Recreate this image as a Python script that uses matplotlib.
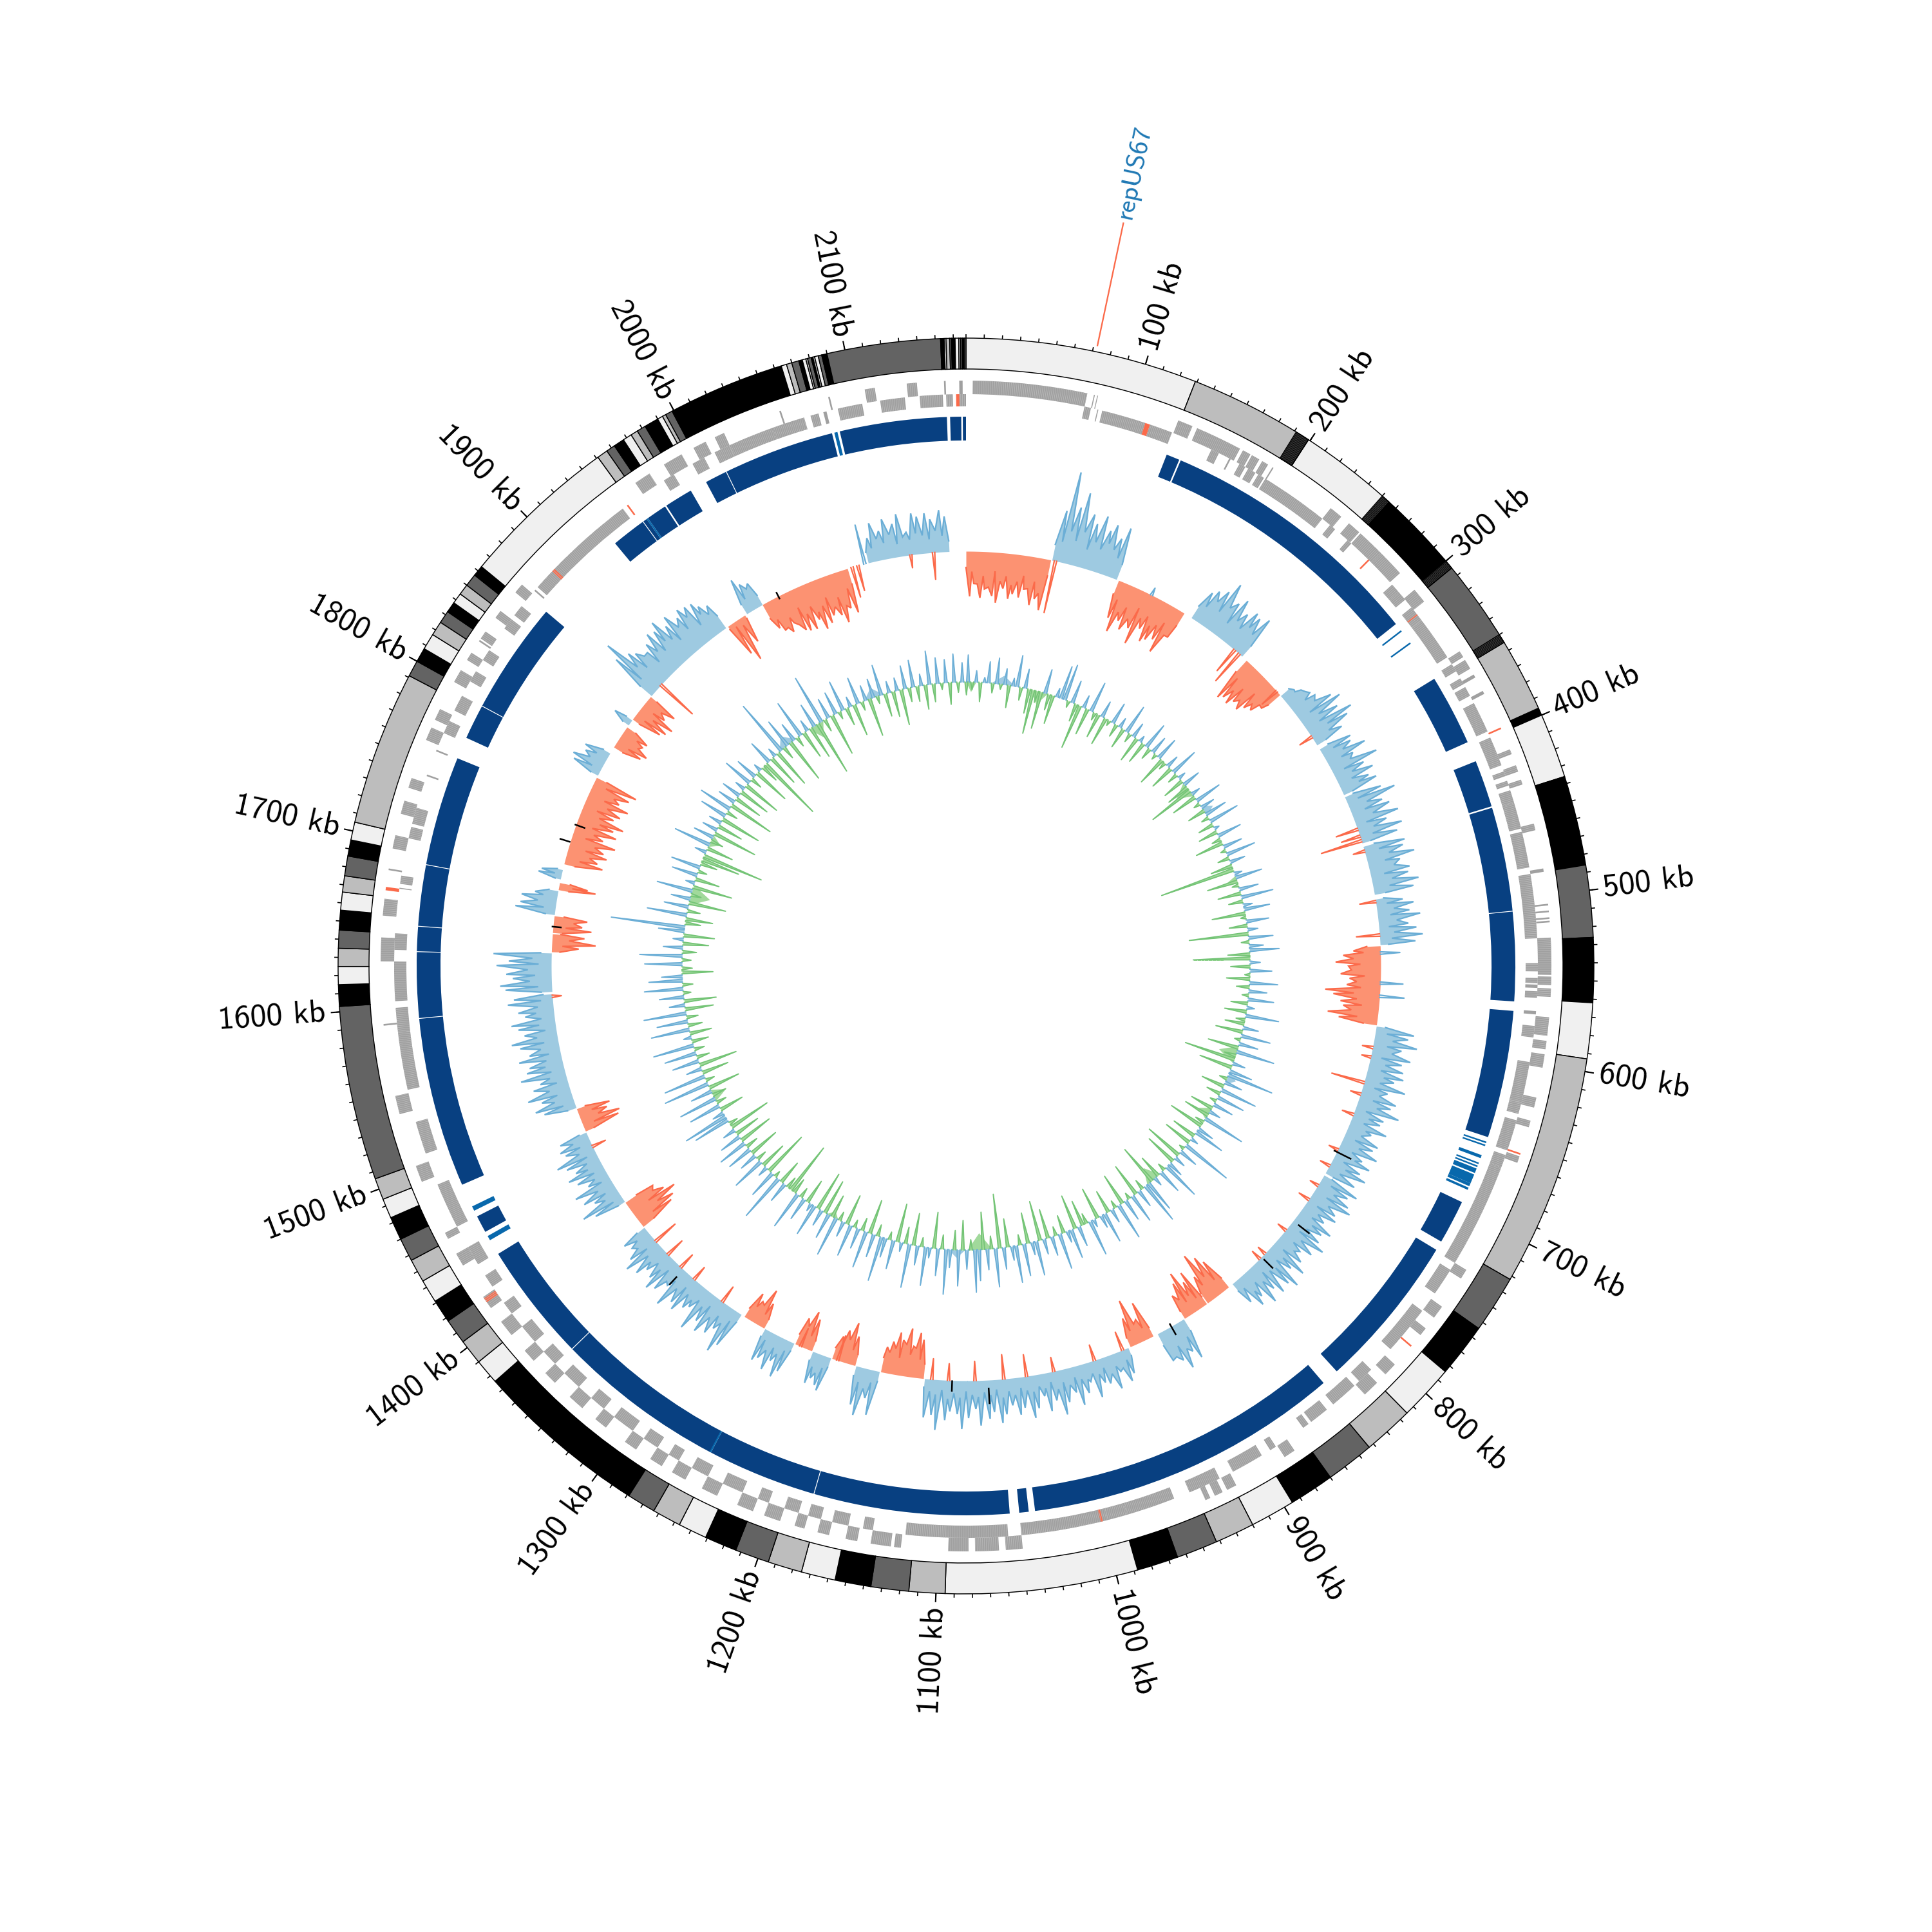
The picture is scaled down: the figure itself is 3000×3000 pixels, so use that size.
import matplotlib
matplotlib.use('Agg')
import numpy as np
import matplotlib.pyplot as plt

total_kb = 2167

# contig bands of the outer ring: start kb and shade index (0 light .. 3 black)
band_start = [0, 129, 199, 255, 305, 355, 396, 400, 436, 486, 526, 562, 593, 722, 754, 784, 815, 843, 870, 895, 920, 942, 965, 988,
              1095, 1115, 1136, 1156, 1175, 1194, 1213, 1231, 1247, 1263, 1279,
              1376, 1390, 1404, 1418, 1431, 1444, 1457, 1470, 1483, 1494, 1506, 1603, 1615, 1625, 1635,
              1645, 1656, 1666, 1675, 1686, 1695, 1705, 1791, 1800, 1808, 1817, 1825, 1832, 1838, 1844,
              1850, 1857, 1863, 1951, 1957, 1962, 1968, 1973, 1977, 1982, 1990, 1993, 1995, 1999, 2064,
              2067, 2070, 2074, 2076, 2078, 2079, 2081, 2082, 2083, 2085, 2087, 2090, 2153,
              2155, 2156, 2158, 2159, 2161, 2163, 2164, 2165, 2166]
band_shade = [0, 1, 0, 3, 2, 1, 3, 0, 3, 2, 3, 0, 1, 2, 3, 0, 1, 2, 3, 0, 1, 2, 3, 0,
              1, 2, 3, 0, 1, 2, 3, 0, 1, 2, 3,
              0, 1, 2, 3, 0, 1, 2, 3, 0, 1, 2, 3, 0, 1, 2,
              3, 0, 1, 2, 3, 0, 1, 2, 3, 0, 1, 2, 3, 0, 1,
              2, 3, 0, 1, 2, 3, 0, 1, 2, 3, 0, 1, 2, 3, 0,
              1, 2, 3, 0, 1, 2, 3, 1, 0, 2, 3, 2, 3,
              0, 1, 2, 3, 0, 1, 2, 3, 2]
band_colors = ['#f0f0f0', '#bdbdbd', '#636363', '#000000']

# small contigs packed together, drawn as black stripes
dense_stripes = [191.5, 192.2, 192.9, 193.6, 194.3, 195.0, 195.7, 196.4, 197.1, 197.8, 198.5,
                 250.5, 251.2, 251.9, 252.6, 253.3, 254.0, 254.7,
                 300.4, 301.1, 301.8, 302.5, 303.2, 303.9, 304.6,
                 350.6, 351.3, 352.0, 352.7, 353.4, 354.1, 354.8,
                 395.5, 396.2, 396.9, 397.6, 398.3]
dense_start = [191, 250, 300, 350]
dense_end = [199, 255, 305, 355]

# essential / conserved track
core_start = [129, 138.5, 352, 410, 441, 507.5, 570, 695, 729, 839, 1044, 1056, 1180.5, 1250.5, 1359.5, 1451, 1484, 1592.5,
              1634.5, 1650.5, 1689.5, 1773, 1795.5, 1928, 1950.5, 1954, 1968, 1997, 2011.5, 2087, 2157, 2165]
core_end = [137.5, 310, 397, 440, 507, 564, 651, 723, 828, 1040, 1050, 1180, 1250, 1359, 1435, 1462, 1592, 1634,
            1650, 1689, 1759, 1795, 1867, 1950, 1953, 1967, 1986, 2011, 2082, 2155, 2164, 2167]
thin_start = [315, 324.5, 654, 656, 663, 668, 670, 672, 676, 682, 685, 1445, 1466, 2083.5, 1250, 1953]
thin_end = [316, 325.5, 655, 657, 665, 669, 671, 675, 682, 684, 686.5, 1448, 1469, 2085.5, 1251, 1954]

# genes on the two strands
genes_outer = [(4, 72), (76, 76.6), (78, 78.5), (128, 137), (140, 168), (170, 175), (176, 181), (183, 187), (190, 190.8),
               (232, 240), (246, 254), (255, 272), (272, 288), (301, 310), (346, 350), (352, 358), (362, 364),
               (373, 375), (411, 414), (421, 425), (430, 433), (457, 461), (484, 486), (505, 506), (509, 510),
               (513, 514), (515, 516), (525, 547), (548, 553), (555, 560), (572, 583), (586, 591), (594, 602),
               (620, 626), (634, 638), (656, 660), (730, 736), (756, 764), (772, 777), (800, 808), (815, 825),
               (878, 885), (918, 924), (927, 932), (935, 938), (1050, 1060), (1064, 1078), (1082, 1094),
               (1122, 1126), (1128, 1140), (1148, 1155), (1165, 1172), (1180, 1186), (1195, 1205), (1212, 1222),
               (1235, 1245), (1256, 1265), (1272, 1280), (1290, 1298), (1312, 1320), (1330, 1340), (1352, 1360),
               (1370, 1378), (1390, 1400), (1410, 1418), (1440, 1448), (1458, 1462), (1495, 1505), (1537, 1548),
               (1590, 1591), (1628, 1642), (1655, 1665), (1682, 1683), (1695, 1703), (1716, 1724), (1732, 1738),
               (1762, 1770), (1775, 1782), (1800, 1808), (1815, 1820), (1828, 1829), (1830, 1835), (1845, 1850),
               (1864, 1870), (1960, 1970), (1980, 1992), (2000, 2008), (2014, 2020), (2055, 2056), (2085, 2086),
               (2107, 2113), (2132, 2138), (2154, 2155), (2163, 2165)]
genes_inner = [(72, 76), (80, 80.6), (83, 110), (113, 127), (153, 158), (165, 166), (172, 176), (178, 183), (185, 189),
               (190, 232), (238, 242), (252, 255), (290, 296), (296, 302), (308, 318), (318, 345), (350, 355),
               (360, 364), (366, 372), (377, 396), (400, 418), (422, 425), (428, 431), (434, 442), (442, 458),
               (460, 482), (486, 525), (540, 545), (549, 552), (553, 555), (557, 561), (569, 571), (578, 585),
               (600, 625), (624, 632), (636, 655), (658, 666), (666, 730), (735, 752), (765, 780), (780, 795),
               (812, 822), (826, 843), (848, 860), (862, 866), (886, 890), (896, 916), (925, 945), (955, 985),
               (985, 997), (997, 1050), (1058, 1095), (1095, 1120), (1140, 1146), (1155, 1165), (1172, 1180),
               (1186, 1195), (1205, 1212), (1222, 1235), (1245, 1256), (1265, 1272), (1280, 1290), (1298, 1312),
               (1320, 1330), (1340, 1352), (1360, 1370), (1378, 1390), (1400, 1408), (1420, 1428), (1436, 1448),
               (1462, 1490), (1510, 1530), (1550, 1585), (1585, 1600), (1604, 1628), (1635, 1645), (1672, 1672.6),
               (1675, 1680), (1703, 1710), (1712, 1722), (1742, 1743), (1758, 1759), (1770, 1778), (1785, 1795),
               (1805, 1812), (1820, 1827), (1843, 1850), (1853, 1860), (1872, 1873), (1875, 1890), (1890, 1945),
               (1975, 1982), (1995, 2003), (2010, 2020), (2020, 2048), (2048, 2068), (2072, 2077), (2080, 2082),
               (2089, 2104), (2115, 2130), (2139, 2153), (2155, 2159), (2163, 2167)]
genes_red_outer = [(397, 398), (654, 655), (785, 786), (1414, 1417), (1670, 1672)]
genes_red_inner = [(110, 113), (269, 270), (313, 314), (1888, 1890), (1948, 1949), (2161, 2163), (1000, 1001.5)]

# GC content track: segments, sign, floor and peak heights
gc_start = [0, 72, 130, 198, 256, 297, 352, 397, 441, 486, 525, 592, 724, 847, 870, 893, 922, 945, 1119, 1156, 1177,
            1198, 1215, 1231, 1259, 1281, 1391, 1417, 1484, 1505, 1604, 1637, 1653, 1668, 1689, 1698, 1711, 1790,
            1817, 1839, 1845, 1870, 1956, 1975, 1990, 2085]
gc_end = [71, 128, 191, 251, 296, 348, 395, 438, 482, 524, 591, 722, 843, 869, 892, 918, 943, 1118, 1155, 1176, 1197,
          1214, 1230, 1258, 1278, 1390, 1416, 1483, 1504, 1602, 1636, 1652, 1667, 1688, 1695, 1706, 1788, 1811,
          1837, 1844, 1869, 1954, 1973, 1990, 2067, 2153]
gc_sign = [-1, 1, -1, 1, -1, 1, 1, 1, 1, 1, -1, 1, 1, -1, -1, 1, -1, 1, -1, 1, -1,
           1, -1, 1, -1, 1, -1, 1, -1, 1, 1, -1, -1, 1, -1, 1, -1, 1,
           -1, 1, -1, 1, -1, 1, -1, 1]
gc_floor = [42, 42, 38, 36, 40, 28, 26, 24, 30, 22, 35, 24, 24, 30, 22, 35, 25, 22, 38, 26, 30,
            25, 28, 22, 26, 24, 35, 20, 24, 24, 28, 22, 26, 24, 28, 14, 30, 20,
            28, 18, 22, 38, 10, 28, 42, 28]
gc_peaks = [
    [70, 50, 72, 58, 68, 78, 55, 70, 62, 66, 52, 75, 64, 80],
    [80, 143, 90, 115, 85, 72, 88, 68, 80, 62, 82],
    [60, 80, 58, 70, 62, 85, 55, 72, 66, 60, 78, 45],
    [50, 58, 66, 85, 60, 72, 55, 66, 62, 70],
    [72, 66, 70, 60, 65, 55, 50, 35],
    [22, 30, 38, 42, 62, 73, 60, 78, 66, 48],
    [52, 48, 67, 42, 76, 50, 60, 48, 58],
    [58, 78, 52, 61, 70, 48, 69, 58],
    [65, 60, 75, 50, 62, 58, 72, 62],
    [42, 58, 50, 66, 46, 58, 67, 55],
    [42, 58, 70, 50, 62, 48, 52, 85, 72, 60, 55, 78, 60],
    [60, 52, 68, 45, 62, 50, 55, 58, 45, 66, 40, 58, 52, 69, 48, 45, 60, 38, 55, 50, 62, 42, 58, 48, 61, 50],
    [62, 50, 58, 66, 48, 54, 40, 60, 48, 52, 66, 55, 38, 50, 64, 45, 70, 58, 62, 48, 64, 44, 55, 40],
    [55, 68, 80, 45],
    [62, 48, 70, 55, 40],
    [65, 50, 72, 55, 48],
    [60, 35, 72, 45],
    [40, 50, 30, 55, 42, 38, 58, 30, 46, 62, 40, 52, 70, 45, 60, 35, 52, 66, 48, 58, 42, 55, 68, 50, 60, 70, 44, 58,
     75, 52, 48, 62, 78, 55, 60],
    [60, 70, 48, 75, 55, 66, 50, 40],
    [70, 45, 75, 60],
    [45, 65, 50, 38],
    [55, 48, 40, 50],
    [50, 60, 45],
    [50, 62, 40, 58, 45, 52],
    [40, 60, 35, 45],
    [60, 75, 42, 55, 62, 48, 70, 38, 45, 58, 50, 66, 35, 52, 60, 45, 40, 55, 62, 48, 35, 42],
    [60, 68, 78, 62, 50],
    [50, 68, 40, 55, 62, 35, 48, 58, 42, 52, 65, 44, 50, 45],
    [58, 62, 45, 52],
    [50, 62, 48, 68, 55, 42, 70, 58, 52, 66, 48, 60, 72, 50, 58, 68, 45, 55, 70, 60],
    [72, 80, 60, 70, 85, 66, 90],
    [42, 68, 50],
    [60, 45, 52],
    [62, 55, 55, 35],
    [58, 45],
    [36, 32],
    [60, 50, 62, 55, 70, 48, 66, 58, 72, 52, 60, 68, 50, 62, 70],
    [45, 50, 35, 40],
    [45, 52, 38, 42],
    [30],
    [48, 55, 60, 40, 50],
    [78, 102, 70, 62, 50, 60, 70, 66, 78, 60, 72, 58, 68, 64, 62, 52, 45],
    [55, 70, 45],
    [57, 45, 40],
    [45, 52, 60, 48, 66, 70, 72, 60, 78, 72, 62, 66, 80, 60, 70],
    [38, 60, 45, 62, 52, 66, 36, 64, 58, 62, 52, 65, 55],
]
# troughs and peak positions are not even in the picture
gc_floor_wobble = [1.0, 0.75, 1.2, 0.9, 1.3, 0.7, 1.05, 0.85, 1.15]
gc_peak_shift = [0.8, -0.6, 0.3, -1.0, 1.1, -0.2, 0.6]
# single spikes of the other sign inside a segment
gc_spike_kb = [75, 160, 243, 248, 292, 340, 426, 432, 436, 445, 488, 516, 531, 556, 567, 610, 618, 640, 650, 668,
               700, 715, 734, 748, 780, 806, 812, 950, 975, 1010, 1033, 1052, 1076, 1098, 1112, 1192, 1225, 1300,
               1330, 1345, 1360, 1375, 1470, 1600, 1882, 2071, 2076, 2082, 2121, 2140]
gc_spike_val = [-82, 12, -42, -55, -30, -22, -35, -30, -65, -18, -25, -36, 30, 35, 38, -16, -14, -52, -16, -18,
                -15, -16, -14, -18, -15, -14, -16, -30, -25, -22, -34, -38, -30, -26, -32, -40, -30, -28,
                -24, -26, -30, -40, -22, -14, -66, -48, -40, 62, -20, -42]
gc_black_kb = [702, 770, 810, 905, 1065, 1095, 1342, 1658, 1730, 1745, 2005]
gc_black_r0 = [640, 655, 650, 640, 657, 645, 660, 632, 645, 630, 640]
gc_black_r1 = [668, 675, 668, 658, 680, 660, 675, 645, 660, 645, 650]

# GC skew track, one signed value every 5 kb
skew_vals = [
    42, -12, 18, -30, 8, 33, -15, 40, -8, 25, -35, 12, 49, -20, 30, -38, -69, -18, -58, 38,
    -25, -45, 14, 52, 57, -10, 36, -28, -70, 20, -42, 48, -12, -38, 26, -44, -8, 34, -20, 16,
    -32, 46, -14, 24, -40, 10, -34, 42, -18, 28, -9, 36, -46, -12, 20, -38, 44, -16, 12, -34,
    28, -36, -72, 14, -40, 42, -10, 22, -28, 35, -12, 48, -24, 8, -30, 38, -14, -44, 30, -8,
    46, -18, 24, -34, -118, 12, 42, -48, -10, 30, -36, 50, -22, 14, 40, -52, -8, 35, -28, 16,
    -92, 38, -12, 22, 46, -34, -88, 16, -30, 34, -8, -36, 44, -20, 28, -10, 40, -26, 12, -34,
    52, -14, -30, 24, -42, 46, -9, 30, -48, 60, -18, -80, 20, -52, 36, 73, -12, 28, -36, 58,
    -22, 44, -10, 32, -36, 18, -40, 66, -14, -55, 26, 48, -38, 12, -44, 80, -8, 30, -60, 18,
    -50, 24, 60, -12, 38, -36, 14, -64, 50, 66, -16, 28, -52, 46, -10, 34, -50, 58, -12, 22,
    -36, 48, 20, -50, 12, 56, -16, -40, 32, -54, 46, 18, -28, 56, -14, 30, -46, 24, -62, 54,
    20, -48, 50, -16, 58, 22, -44, 34, -84, 60, -20, 32, -58, 48, 66, -16, 30, -46, 56, -30,
    28, 70, -22, 42, -56, 16, 60, -14, 30, -50, 68, -26, 14, -60, 45, -12, 30, 70, -18, 36,
    -54, 58, -20, 32, -12, 50, -48, 24, -14, 62, -36, 40, -55, 26, -62, 50, 12, -38, 36, -16,
    60, -24, -82, -18, 32, -38, 75, -10, 44, -72, 16, -42, 52, -16, 28, -48, 40, -20, 46, -54,
    34, -40, 20, -66, -14, 58, 71, 18, -38, 50, -16, 60, -22, 34, -50, 72, -14, 66, -42, 24,
    -60, 42, -20, 50, -16, 64, -26, 12, -34, 60, -22, 48, -18, 66, -44, 24, -50, 38, -12, 60,
    -16, 52, 32, -48, -16, 58, -14, 66, -22, 30, -40, 16, -48, 40, 115, -24, -42, 62, -20, 38,
    -58, 30, -16, 56, -62, 14, -38, 40, -14, 46, -26, -60, -96, 18, -42, 58, -20, 32, -70, 24,
    -40, 20, -64, 42, -18, 52, -72, 28, -44, 30, -50, 16, -60, 46, -18, 34, -58, 12, -28, -103,
    38, -50, 14, -62, 90, -20, 46, -70, 30, -16, 60, -44, 18, -52, 38, -86, 78, -20, 32, -66,
    36, -12, 48, -28, 16, -50, 42, -14, 24, -60, 30, -12, 48, -36, 18, -40, 20, -56, 36, -22,
    42, -24, 18, -38, 52, -28, 40, -10, 36, -34, 44, -16, 30, -20,
]
skew_core_start = [0, 30, 80, 300, 335, 430, 640, 672, 722, 825, 1052, 1085, 1245, 1455, 1700, 1775, 1920, 1965, 2040]
skew_core_end = [12, 60, 100, 320, 350, 440, 662, 690, 738, 845, 1082, 1105, 1260, 1470, 1725, 1790, 1945, 1985, 2065]
skew_core_val = [-15, 14, -20, -24, 16, -15, -28, 14, -18, -24, -26, 12, -10, -22, -30, -16, 18, -22, 16]

tick_kb = [100, 200, 300, 400, 500, 600, 700, 800, 900, 1000, 1100, 1200, 1300, 1400, 1500, 1600, 1700, 1800, 1900,
           2000, 2100]
rep_kb = 72
rep_name = 'repUS67'


def th(kb):
    return np.asarray(kb, dtype=float) / total_kb * 2 * np.pi


def ring(ax, start, end, r0, r1, **kw):
    start = np.asarray(start, dtype=float)
    end = np.asarray(end, dtype=float)
    ax.bar(th(start), r1 - r0, width=th(end - start), bottom=r0, align='edge', **kw)


plt.rcParams['font.family'] = ['cmss10', 'DejaVu Sans']
plt.rcParams['axes.unicode_minus'] = False

fig = plt.figure(figsize=(10, 10), dpi=300)
ax = fig.add_axes([0, 0, 1, 1], projection='polar')
ax.set_theta_zero_location('N')
ax.set_theta_direction(-1)
ax.set_ylim(0, 1500)
ax.set_axis_off()

# outer contig ring
band_end = band_start[1:] + [total_kb]
for s, e, c in zip(band_start, band_end, band_shade):
    ring(ax, [s], [e], 927, 975, color=band_colors[c], edgecolor='black', linewidth=0.35)
ring(ax, dense_start, dense_end, 927, 975, color='#444444', edgecolor='black', linewidth=0.35)
ring(ax, dense_stripes, np.array(dense_stripes) + 0.35, 927, 975, color='black', linewidth=0)

# scale ticks
ax.vlines(th(np.arange(0, total_kb, 10)), 975, 981, color='black', linewidth=0.4)
ax.vlines(th(tick_kb), 975, 989, color='black', linewidth=0.5)
for k in tick_kb:
    deg = k / total_kb * 360
    if deg <= 180:
        rot, ha = 90 - deg, 'left'
    else:
        rot, ha = 270 - deg, 'right'
    ax.text(th(k), 997, f'{k} kb', rotation=rot, rotation_mode='anchor', ha=ha, va='center', fontsize=12, color='black')

# repeat label
ax.plot([th(rep_kb), th(rep_kb)], [985, 1179], color='#fb6a4a', linewidth=0.55)
ax.text(th(rep_kb), 1187, rep_name, rotation=90 - rep_kb / total_kb * 360, rotation_mode='anchor', ha='left', va='center',
        fontsize=10, color='#1f78b4')

# genes
ring(ax, [g[0] for g in genes_outer], [g[1] for g in genes_outer], 888, 909, color='#a0a0a0', linewidth=0)
ring(ax, [g[0] for g in genes_inner], [g[1] for g in genes_inner], 869, 888, color='#a0a0a0', linewidth=0)
# hairlines between neighbouring genes inside a block
for glist, r0, r1 in [(genes_outer, 888, 909), (genes_inner, 869, 888)]:
    for g in glist:
        if g[1] - g[0] > 2:
            ax.vlines(th(np.arange(g[0] + 0.8, g[1], 1.1)), r0, r1, color='#bcbcbc', linewidth=0.18)
ring(ax, [g[0] for g in genes_red_outer], [g[1] for g in genes_red_outer], 888, 909, color='#fb6a4a', linewidth=0)
ring(ax, [g[0] for g in genes_red_inner], [g[1] for g in genes_red_inner], 869, 888, color='#fb6a4a', linewidth=0)

# core track
ring(ax, core_start, core_end, 816, 853, color='#084081', linewidth=0)
ring(ax, thin_start, thin_end, 816, 853, color='#0868ac', linewidth=0)

# GC content
gc_base = 644
for s, e, sgn, fl, peaks in zip(gc_start, gc_end, gc_sign, gc_floor, gc_peaks):
    x = np.linspace(s, e, 2 * len(peaks) + 1)
    y = np.full(len(x), float(fl))
    for j in range(len(y) // 2 + 1):
        y[2 * j] = fl * gc_floor_wobble[j % len(gc_floor_wobble)]
    for j in range(len(peaks)):
        x[2 * j + 1] += gc_peak_shift[j % len(gc_peak_shift)]
    y[1::2] = peaks
    y[0] = y[-1] = 0.6 * fl
    r = gc_base + sgn * y
    fill, line = ('#9ecae1', '#6baed6') if sgn > 0 else ('#fc9272', '#fb6a4a')
    ax.fill_between(th(x), gc_base, r, color=fill, linewidth=0)
    ax.plot(th(x), r, color=line, linewidth=0.55, solid_joinstyle='miter')
for k, v in zip(gc_spike_kb, gc_spike_val):
    line = '#6baed6' if v > 0 else '#fb6a4a'
    ax.plot(th([k - 1, k, k + 1]), [gc_base, gc_base + v, gc_base], color=line, linewidth=0.55)
for k, r0, r1 in zip(gc_black_kb, gc_black_r0, gc_black_r1):
    ax.plot(th([k, k]), [r0, r1], color='black', linewidth=0.6)

# GC skew
skew_base = 441
for s, e, v in zip(skew_core_start, skew_core_end, skew_core_val):
    fill = '#9ecae1' if v > 0 else '#a1d99b'
    ax.fill_between(th([s, (s + e) / 2, e]), skew_base, [skew_base, skew_base + v, skew_base], color=fill, linewidth=0)
for i, v in enumerate(skew_vals):
    k = i * 5 + 2.5
    fill, line = ('#9ecae1', '#6baed6') if v > 0 else ('#a1d99b', '#74c476')
    ax.fill_between(th([k - 1.8, k, k + 1.8]), skew_base, [skew_base, skew_base + v, skew_base], color=fill, linewidth=0)
    ax.plot(th([k - 1.8, k, k + 1.8]), [skew_base, skew_base + v, skew_base], color=line, linewidth=0.45)

fig.savefig('out.png', dpi=300, facecolor='white')
